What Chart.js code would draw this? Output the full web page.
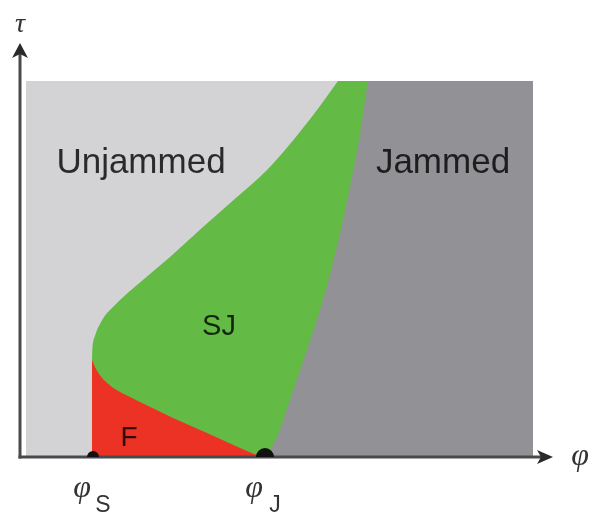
<!DOCTYPE html>
<html><head><meta charset="utf-8">
<script src="https://cdn.jsdelivr.net/npm/chart.js@4.4.0/dist/chart.umd.min.js"></script>
<style>html,body{margin:0;padding:0;background:#fff;}#wrap{width:591px;height:514px;}</style>
</head><body><div id="wrap"><canvas id="c" width="591" height="514"></canvas></div>
<script>
// Phase diagram: x = packing fraction phi, y = shear stress tau (arbitrary units)
const unjammedTop = [{x:6,y:376},{x:513,y:376}];
const frameTop = [{x:0,y:376},{x:533,y:376}];
const jammedBoundary = [{x:245,y:0},{x:250,y:7},{x:257,y:20},{x:270,y:57},{x:287,y:107},{x:303,y:157},{x:318,y:215},{x:330,y:270},{x:340,y:323},{x:348,y:376},{x:356,y:414},{x:513,y:414}];
const sjBoundary = [{x:72,y:97},{x:72.3,y:107},{x:73,y:114},{x:75,y:121},{x:77,y:127},{x:80,y:133},{x:84,y:140},{x:89,y:146},{x:94,y:151},{x:100,y:157},{x:117,y:172},{x:150,y:200},{x:183,y:230},{x:217,y:260},{x:247,y:287},{x:265,y:307},{x:283,y:329},{x:300,y:351},{x:318,y:376},{x:340,y:404},{x:365,y:414}];
const fBoundary = [{x:72,y:97},{x:75,y:90},{x:79,y:83},{x:84,y:77},{x:92,y:70},{x:104,y:63},{x:120,y:55},{x:153,y:39},{x:187,y:24},{x:220,y:9},{x:237,y:2},{x:245,y:0}];
const markerPhi = [73, 245];
const markerRadius = [6, 9];
const markerLabels = [['φ','S'], ['φ','J']];
const regionNames = ['Unjammed', 'Jammed', 'SJ', 'F'];
const regionAnchors = [{x:121,y:284},{x:423,y:284},{x:199,y:122},{x:109,y:11}];
const axisTitles = {x:'φ', y:'τ'};
const xRange = [0, 533], yRange = [0, 414];

const colors = {light:'#d3d3d5', dark:'#929296', green:'#63bb45', red:'#ec3225', axis:'#4a4a4a', text:'rgba(0,0,0,0.8)'};

const overlay = {
  id:'overlay',
  afterDatasetDraw(chart, args){
    if (chart.data.datasets[args.index].label !== 'F') return;
    const ctx = chart.ctx, xs = chart.scales.x, ys = chart.scales.y;
    const x0 = xs.getPixelForValue(0), y0 = ys.getPixelForValue(0);
    const xt = xs.getPixelForValue(xRange[1]), yt = ys.getPixelForValue(yRange[1]);
    ctx.save();
    ctx.strokeStyle = colors.axis; ctx.fillStyle = '#2a2a2a'; ctx.lineWidth = 3;
    ctx.beginPath(); ctx.moveTo(x0, y0+1.5); ctx.lineTo(x0, yt+10); ctx.stroke();
    ctx.beginPath(); ctx.moveTo(x0-1.5, y0); ctx.lineTo(xt-10, y0); ctx.stroke();
    ctx.beginPath(); ctx.moveTo(x0, yt); ctx.lineTo(x0+8, yt+15); ctx.lineTo(x0, yt+11); ctx.lineTo(x0-8, yt+15); ctx.closePath(); ctx.fill();
    ctx.beginPath(); ctx.moveTo(xt, y0); ctx.lineTo(xt-16, y0+7); ctx.lineTo(xt-12, y0); ctx.lineTo(xt-16, y0-7); ctx.closePath(); ctx.fill();
    ctx.restore();
  },
  afterDatasetsDraw(chart){
    const ctx = chart.ctx, xs = chart.scales.x, ys = chart.scales.y;
    ctx.save();
    ctx.fillStyle = colors.text; ctx.textAlign = 'center'; ctx.textBaseline = 'alphabetic';
    const sizes = [35, 35, 29, 28];
    regionNames.forEach((t, i) => {
      ctx.font = sizes[i] + 'px "Liberation Sans", Arial, sans-serif';
      ctx.fillText(t, xs.getPixelForValue(regionAnchors[i].x), ys.getPixelForValue(regionAnchors[i].y));
    });
    ctx.fillStyle = '#333';
    const y0 = ys.getPixelForValue(0);
    markerLabels.forEach((lab, i) => {
      const px = xs.getPixelForValue(markerPhi[i]);
      ctx.font = 'italic 32px "Liberation Serif", "DejaVu Serif", serif';
      ctx.fillText(lab[0], px - 11, y0 + 40);
      ctx.font = '23px "Liberation Sans", Arial, sans-serif';
      ctx.fillText(lab[1], px + 10, y0 + 55);
    });
    ctx.font = 'italic 32px "Liberation Serif", "DejaVu Serif", serif';
    ctx.fillText(axisTitles.x, xs.getPixelForValue(xRange[1]) + 27, y0 + 8);
    ctx.font = 'italic 28px "Liberation Serif", "DejaVu Serif", serif';
    ctx.fillText(axisTitles.y, xs.getPixelForValue(0), ys.getPixelForValue(yRange[1]) - 11);
    ctx.restore();
  }
};

const region = (label, data, color, order, fill) => ({label, data, backgroundColor:color, borderWidth:0, pointRadius:0, fill: fill || 'origin', order, cubicInterpolationMode:'monotone'});

new Chart(document.getElementById('c'), {
  type:'line',
  data:{datasets:[
    {label:'points', data: markerPhi.map(v => ({x:v, y:0})), showLine:false, pointRadius: markerRadius, pointBackgroundColor:'#111', pointBorderWidth:0, order:0},
    region('F', fBoundary, colors.red, 1),
    region('frame', frameTop, '#ffffff', 1.5, 'end'),
    region('Jammed', jammedBoundary, colors.dark, 2),
    region('SJ', sjBoundary, colors.green, 3),
    region('Unjammed', unjammedTop, colors.light, 4)
  ]},
  options:{
    responsive:false, animation:false, devicePixelRatio:1,
    layout:{padding:{left:20, right:38, top:43, bottom:57}},
    plugins:{legend:{display:false}, tooltip:{enabled:false}},
    elements:{line:{borderWidth:0}},
    scales:{
      x:{type:'linear', min:xRange[0], max:xRange[1], display:false},
      y:{type:'linear', min:yRange[0], max:yRange[1], display:false}
    }
  },
  plugins:[overlay]
});
</script></body></html>
